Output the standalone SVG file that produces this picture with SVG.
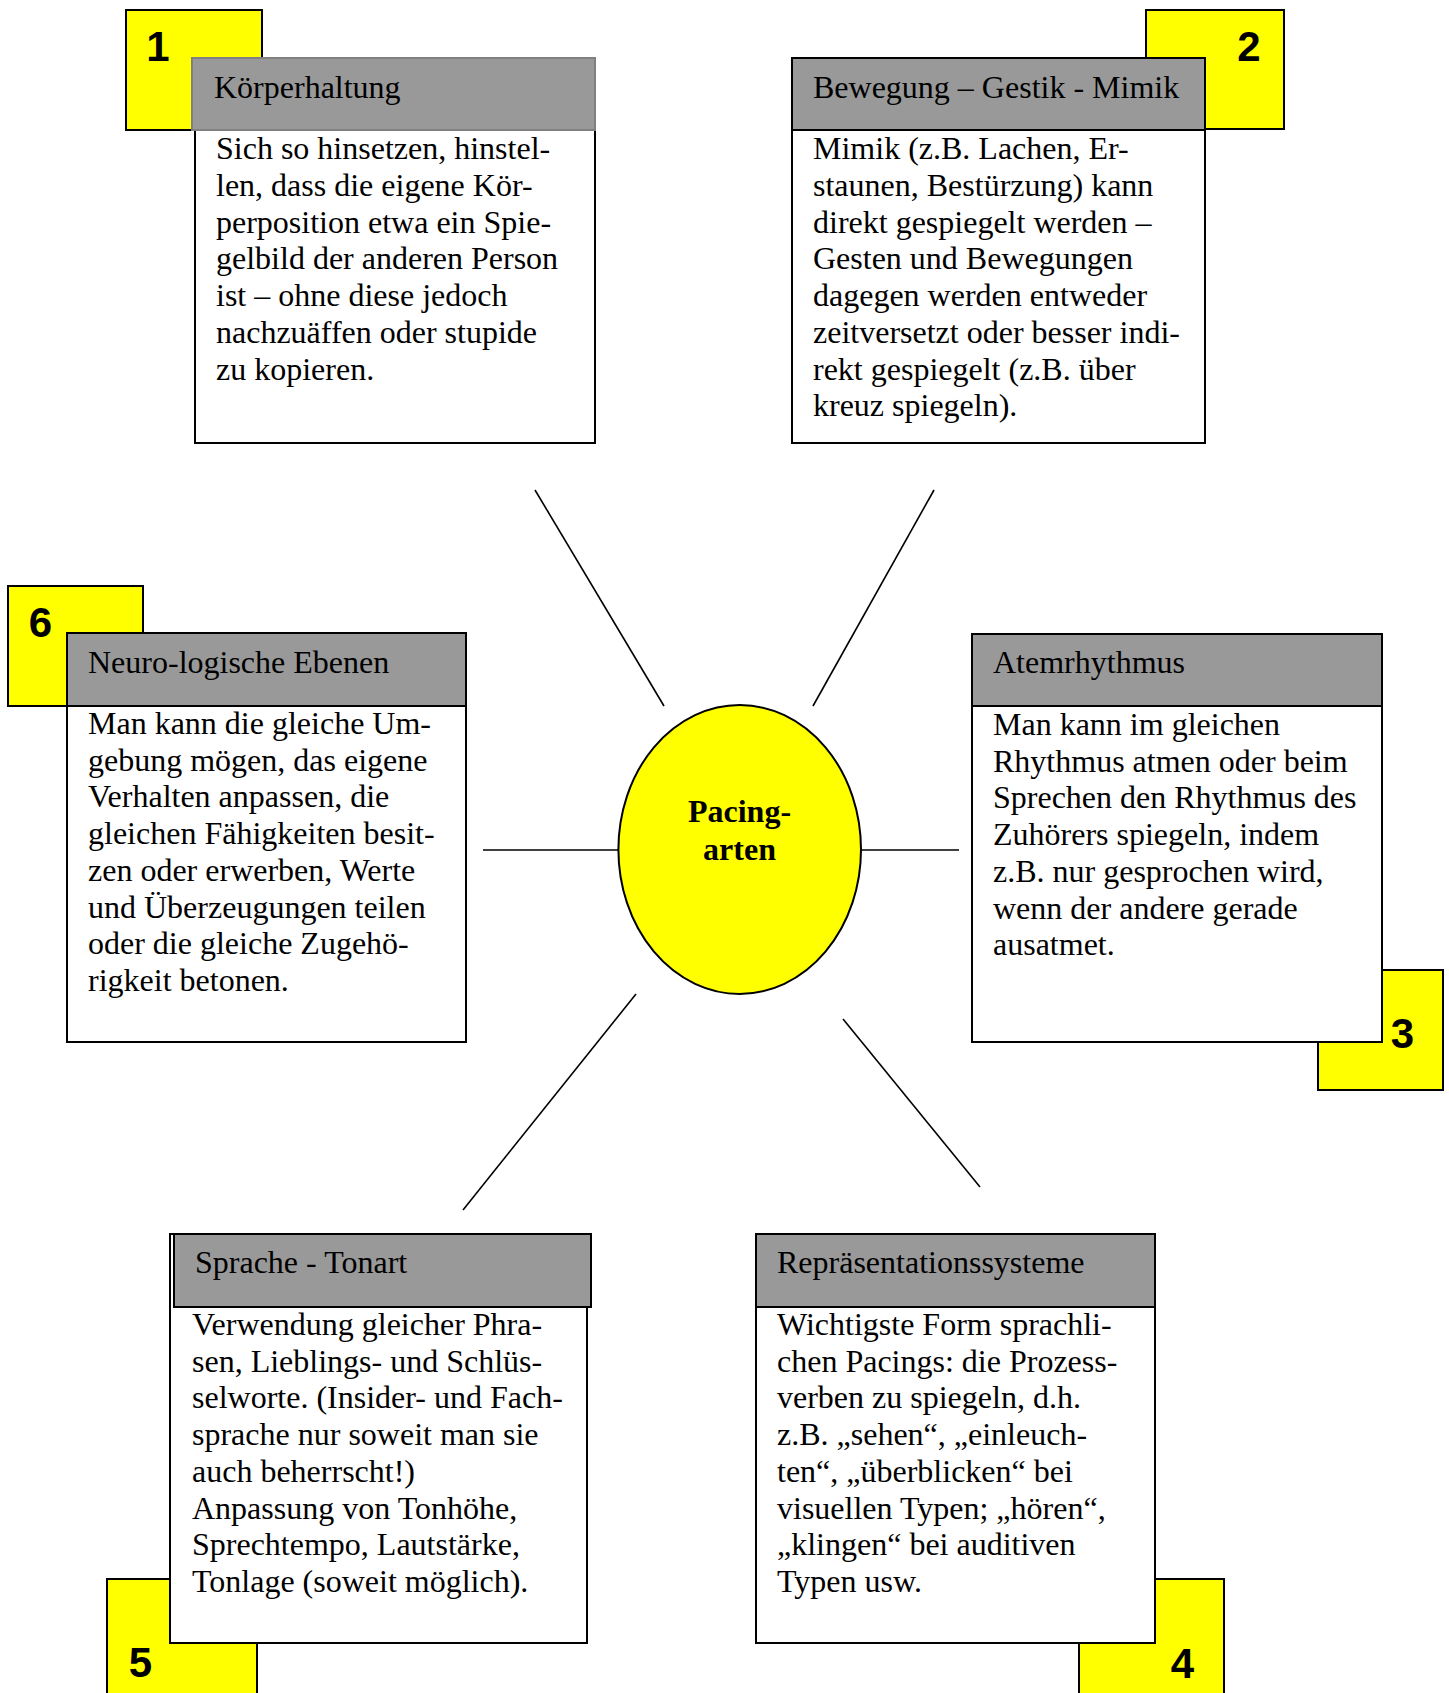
<svg xmlns="http://www.w3.org/2000/svg" width="1449" height="1693" viewBox="0 0 1449 1693">
<style>
.num{fill:#ffff00;stroke:#000;stroke-width:2}
.numt{font-family:"Liberation Sans",Arial,sans-serif;font-weight:bold;font-size:42px;fill:#000;text-anchor:middle}
.hdr{fill:#999999;stroke:#000;stroke-width:2}
.body{fill:#fff;stroke:#000;stroke-width:2}
.ht{font-family:"Liberation Serif","Times New Roman",serif;font-size:32px;fill:#000}
.bt{font-family:"Liberation Serif","Times New Roman",serif;font-size:32px;fill:#000}
.conn line{stroke:#000;stroke-width:1.6}
</style>
<rect width="1449" height="1693" fill="#fff"/>

<g id="connectors" class="conn">
<line x1="535" y1="490" x2="664" y2="706"/>
<line x1="934" y1="490" x2="813" y2="706"/>
<line x1="483" y1="850" x2="618" y2="850"/>
<line x1="862" y1="850" x2="959" y2="850"/>
<line x1="636" y1="994" x2="463" y2="1210"/>
<line x1="843" y1="1019" x2="980" y2="1187"/>
</g>

<g id="center">
<ellipse cx="739.7" cy="849.5" rx="121.3" ry="144.5" fill="#ffff00" stroke="#000" stroke-width="2"/>
<text x="739.5" y="821.7" font-family="'Liberation Serif','Times New Roman',serif" font-size="32" font-weight="bold" text-anchor="middle">Pacing-</text>
<text x="739.5" y="860" font-family="'Liberation Serif','Times New Roman',serif" font-size="32" font-weight="bold" text-anchor="middle">arten</text>
</g>

<g id="node1">
<rect class="num" x="126" y="10" width="136" height="120"/>
<text class="numt" x="158" y="61">1</text>
<rect class="body" x="195" y="130" width="400" height="313"/>
<rect class="hdr" x="192" y="58" width="403" height="72" style="stroke:#808080"/>
<text class="ht" x="214" y="98">Körperhaltung</text>
<text class="bt" x="216" y="159.3">
<tspan x="216">Sich so hinsetzen, hinstel-</tspan>
<tspan x="216" dy="36.7">len, dass die eigene Kör-</tspan>
<tspan x="216" dy="36.7">perposition etwa ein Spie-</tspan>
<tspan x="216" dy="36.7">gelbild der anderen Person</tspan>
<tspan x="216" dy="36.7">ist – ohne diese jedoch</tspan>
<tspan x="216" dy="36.7">nachzuäffen oder stupide</tspan>
<tspan x="216" dy="36.7">zu kopieren.</tspan>
</text>
</g>

<g id="node2">
<rect class="num" x="1146" y="10" width="138" height="119"/>
<text class="numt" x="1249" y="61">2</text>
<rect class="body" x="792" y="130" width="413" height="313"/>
<rect class="hdr" x="792" y="58" width="413" height="72"/>
<text class="ht" x="813" y="98">Bewegung – Gestik - Mimik</text>
<text class="bt" x="813" y="159.3">
<tspan x="813">Mimik (z.B. Lachen, Er-</tspan>
<tspan x="813" dy="36.7">staunen, Bestürzung) kann</tspan>
<tspan x="813" dy="36.7">direkt gespiegelt werden –</tspan>
<tspan x="813" dy="36.7">Gesten und Bewegungen</tspan>
<tspan x="813" dy="36.7">dagegen werden entweder</tspan>
<tspan x="813" dy="36.7">zeitversetzt oder besser indi-</tspan>
<tspan x="813" dy="36.7">rekt gespiegelt (z.B. über</tspan>
<tspan x="813" dy="36.7">kreuz spiegeln).</tspan>
</text>
</g>

<g id="node3">
<rect class="num" x="1318" y="970" width="125" height="120"/>
<text class="numt" x="1402.5" y="1048.3">3</text>
<rect class="body" x="972" y="706" width="410" height="336"/>
<rect class="hdr" x="972" y="634" width="410" height="72"/>
<text class="ht" x="993" y="673.3">Atemrhythmus</text>
<text class="bt" x="993" y="735">
<tspan x="993">Man kann im gleichen</tspan>
<tspan x="993" dy="36.7">Rhythmus atmen oder beim</tspan>
<tspan x="993" dy="36.7">Sprechen den Rhythmus des</tspan>
<tspan x="993" dy="36.7">Zuhörers spiegeln, indem</tspan>
<tspan x="993" dy="36.7">z.B. nur gesprochen wird,</tspan>
<tspan x="993" dy="36.7">wenn der andere gerade</tspan>
<tspan x="993" dy="36.7">ausatmet.</tspan>
</text>
</g>

<g id="node4">
<rect class="num" x="1079" y="1579" width="145" height="130"/>
<text class="numt" x="1182.5" y="1678.3">4</text>
<rect class="body" x="756" y="1307" width="399" height="336"/>
<rect class="hdr" x="756" y="1234" width="399" height="73"/>
<text class="ht" x="777" y="1273.3">Repräsentationssysteme</text>
<text class="bt" x="777" y="1335">
<tspan x="777">Wichtigste Form sprachli-</tspan>
<tspan x="777" dy="36.7">chen Pacings: die Prozess-</tspan>
<tspan x="777" dy="36.7">verben zu spiegeln, d.h.</tspan>
<tspan x="777" dy="36.7">z.B. „sehen“, „einleuch-</tspan>
<tspan x="777" dy="36.7">ten“, „überblicken“ bei</tspan>
<tspan x="777" dy="36.7">visuellen Typen; „hören“,</tspan>
<tspan x="777" dy="36.7">„klingen“ bei auditiven</tspan>
<tspan x="777" dy="36.7">Typen usw.</tspan>
</text>
</g>

<g id="node5">
<rect class="num" x="107" y="1579" width="150" height="130"/>
<text class="numt" x="140.5" y="1676.7">5</text>
<rect class="body" x="170" y="1234" width="417" height="409"/>
<rect class="hdr" x="174" y="1234" width="417" height="73"/>
<text class="ht" x="195" y="1273.3">Sprache - Tonart</text>
<text class="bt" x="192" y="1335">
<tspan x="192">Verwendung gleicher Phra-</tspan>
<tspan x="192" dy="36.7">sen, Lieblings- und Schlüs-</tspan>
<tspan x="192" dy="36.7">selworte. (Insider- und Fach-</tspan>
<tspan x="192" dy="36.7">sprache nur soweit man sie</tspan>
<tspan x="192" dy="36.7">auch beherrscht!)</tspan>
<tspan x="192" dy="36.7">Anpassung von Tonhöhe,</tspan>
<tspan x="192" dy="36.7">Sprechtempo, Lautstärke,</tspan>
<tspan x="192" dy="36.7">Tonlage (soweit möglich).</tspan>
</text>
</g>

<g id="node6">
<rect class="num" x="8" y="586" width="135" height="120"/>
<text class="numt" x="40.5" y="636.7">6</text>
<rect class="body" x="67" y="706" width="399" height="336"/>
<rect class="hdr" x="67" y="633" width="399" height="73"/>
<text class="ht" x="88" y="673.3">Neuro-logische Ebenen</text>
<text class="bt" x="88" y="734">
<tspan x="88">Man kann die gleiche Um-</tspan>
<tspan x="88" dy="36.7">gebung mögen, das eigene</tspan>
<tspan x="88" dy="36.7">Verhalten anpassen, die</tspan>
<tspan x="88" dy="36.7">gleichen Fähigkeiten besit-</tspan>
<tspan x="88" dy="36.7">zen oder erwerben, Werte</tspan>
<tspan x="88" dy="36.7">und Überzeugungen teilen</tspan>
<tspan x="88" dy="36.7">oder die gleiche Zugehö-</tspan>
<tspan x="88" dy="36.7">rigkeit betonen.</tspan>
</text>
</g>
</svg>
